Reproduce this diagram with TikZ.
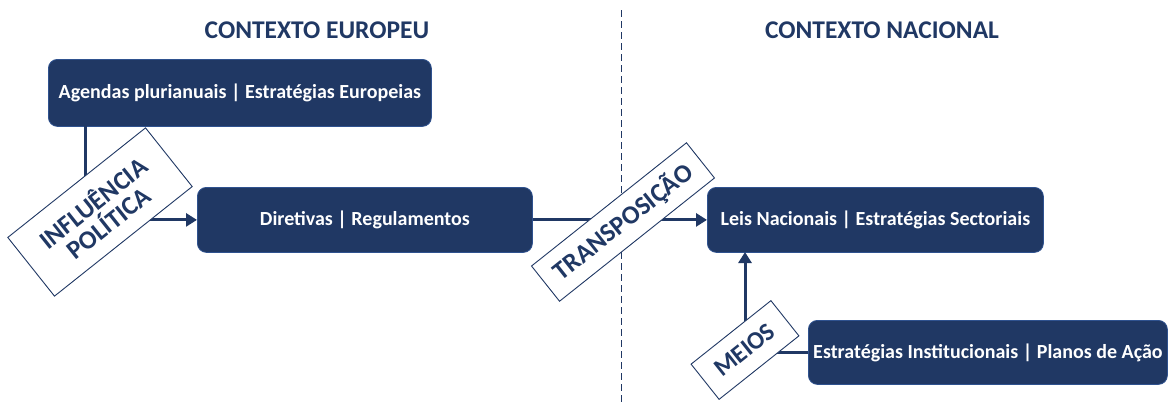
\documentclass[tikz,border=0pt]{standalone}
\usepackage{fontspec}
\setmainfont{Carlito}
\usetikzlibrary{arrows.meta}
\definecolor{navy}{HTML}{203864}
\definecolor{navyedge}{HTML}{2F528F}
\begin{document}
\begin{tikzpicture}[x=1pt,y=-1pt,
  box/.style={draw=navyedge,line width=0.8pt,fill=navy,rounded corners=9pt,anchor=north west,inner sep=0pt},
  boxtext/.style={text=white,font=\bfseries\fontsize{20}{22}\selectfont,inner sep=0pt},
  tag/.style={draw=navy,line width=0.9pt,fill=white,text=navy,rotate=38.5,inner sep=0pt,align=center},
  title/.style={text=navy,font=\bfseries\fontsize{25.5}{28}\selectfont},
  conn/.style={draw=navy,line width=3pt},
  arr/.style={conn,-{Triangle[length=11pt,width=13pt]}}
]
\useasboundingbox (0,0) rectangle (1168,402);
\node[title] (t1) at (317,30) {CONTEXTO EUROPEU};
\node[title] (t2) at (882,30) {CONTEXTO NACIONAL};
\coordinate (dtop) at (621,10);
\coordinate (dbot) at (621,402);
\draw[navy,line width=0.9pt,dash pattern=on 7pt off 4pt] (dtop) -- (dbot);

\node[box,minimum width=383pt,minimum height=67pt] (b1) at (48,59) {};
\node[boxtext] (b1t) at (b1.center) {Agendas plurianuais | Estratégias Europeias};
\node[box,minimum width=335pt,minimum height=65pt] (b2) at (197,187) {};
\node[boxtext] (b2t) at (b2.center) {Diretivas | Regulamentos};
\node[box,minimum width=336pt,minimum height=65pt] (b3) at (707,187) {};
\node[boxtext] (b3t) at (b3.center) {Leis Nacionais | Estratégias Sectoriais};
\node[box,minimum width=359pt,minimum height=64pt] (b4) at (808,320) {};
\node[boxtext] (b4t) at (b4.center) {Estratégias Institucionais | Planos de Ação};

\coordinate (c1) at (85,126);
\draw[arr] (c1) |- (b2.west);
\draw[arr] (b2.east) -- (b3.west);
\coordinate (c3) at (745,252);
\draw[arr] (b4.west) -| (c3);

\node[tag,minimum width=176pt,minimum height=75pt,font=\bfseries\fontsize{26}{25}\selectfont] (l1) at (100,212) {INFLUÊNCIA\\POLÍTICA};
\node[tag,minimum width=198pt,minimum height=45pt,font=\bfseries\fontsize{26}{26}\selectfont] (l2) at (623,222) {TRANSPOSIÇÃO};
\node[tag,minimum width=102pt,minimum height=45pt,font=\bfseries\fontsize{25}{26}\selectfont] (l3) at (745,350) {MEIOS};
\end{tikzpicture}
\end{document}
